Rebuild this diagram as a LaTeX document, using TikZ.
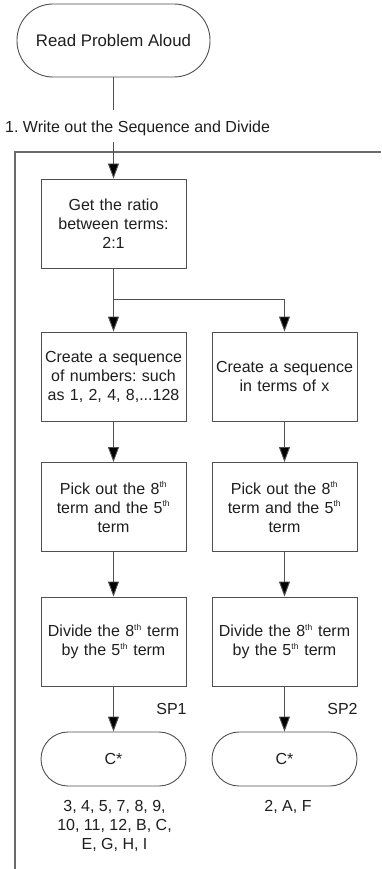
\documentclass[tikz,border=0pt]{standalone}
\usepackage{fontspec}
\setmainfont{Liberation Sans}
\usetikzlibrary{arrows.meta}
\frenchspacing
\definecolor{lc}{HTML}{505050}
\definecolor{tc}{HTML}{1E1E1E}
\tikzset{
  base/.style={draw=lc, line width=0.9pt, text=tc, align=center,
    font=\fontsize{16}{19}\selectfont\frenchspacing, inner sep=2pt},
  procbox/.style={base, minimum width=145pt, minimum height=89pt, text width=139pt},
  term/.style={base, rounded corners=#1},
  lbl/.style={text=tc, font=\fontsize{16}{19}\selectfont\frenchspacing, align=center, inner sep=0pt},
  conn/.style={draw=lc, line width=0.9pt},
  arr/.style={conn, -{Triangle[width=11pt,length=15pt,fill=black]}},
  frame/.style={draw=lc!85!white, line width=1.6pt}
}
\newcommand{\thx}{\textsuperscript{\fontsize{8.5}{8.5}\selectfont th}}
\begin{document}
\begin{tikzpicture}[x=1pt,y=-1pt]
\useasboundingbox (0,0) rectangle (381,869);
% frame
\coordinate (fb) at (15,869);
\coordinate (ftl) at (15,152);
\coordinate (ftr) at (381,152);
\draw[frame] (fb) -- (ftl) -- (ftr);
% nodes
\node[term=36pt, minimum width=193pt, minimum height=73pt, font=\fontsize{16.8}{19}\selectfont] (start) at (113.5,40.5) {Read Problem Aloud};
\node[lbl, anchor=west] (lab) at (5,128) {1. Write out the Sequence and Divide};
\coordinate (l1) at (113.5,110);
\coordinate (l2) at (113.5,142);
\node[procbox] (b1) at (113.5,223.5) {Get the ratio\\between terms:\\2:1};
\node[procbox] (b2l) at (113.5,376.5) {Create a sequence\\of numbers: such\\as 1, 2, 4, 8,...128};
\node[procbox] (b2r) at (284.5,376.5) {Create a sequence\\in terms of x};
\node[procbox] (b3l) at (113.5,507) {Pick out the 8\thx\\term and the 5\thx\\term};
\node[procbox] (b3r) at (284.5,507) {Pick out the 8\thx\\term and the 5\thx\\term};
\node[procbox] (b4l) at (113.5,641.5) {Divide the 8\thx{} term\\by the 5\thx{} term};
\node[procbox] (b4r) at (284.5,641.5) {Divide the 8\thx{} term\\by the 5\thx{} term};
\node[term=27pt, minimum width=145pt, minimum height=54pt] (el) at (113.5,759) {C*};
\node[term=27pt, minimum width=145pt, minimum height=54pt] (er) at (284.5,759) {C*};
\node[lbl] (sp1) at (171.5,709) {SP1};
\node[lbl] (sp2) at (342.5,709) {SP2};
\node[lbl] (rl) at (114.5,826) {3, 4, 5, 7, 8, 9,\\10, 11, 12, B, C,\\E, G, H, I};
\node[lbl] (rr) at (288,807) {2, A, F};
% connectors
\draw[conn] (start) -- (l1);
\draw[arr] (l2) -- (b1);
\coordinate (br) at (113.5,299);
\coordinate (brr) at (284.5,299);
\draw[conn] (b1) -- (br) -- (brr);
\draw[arr] (br) -- (b2l);
\draw[arr] (brr) -- (b2r);
\draw[arr] (b2l) -- (b3l);
\draw[arr] (b2r) -- (b3r);
\draw[arr] (b3l) -- (b4l);
\draw[arr] (b3r) -- (b4r);
\draw[arr] (b4l) -- (el);
\draw[arr] (b4r) -- (er);
\end{tikzpicture}
\end{document}
